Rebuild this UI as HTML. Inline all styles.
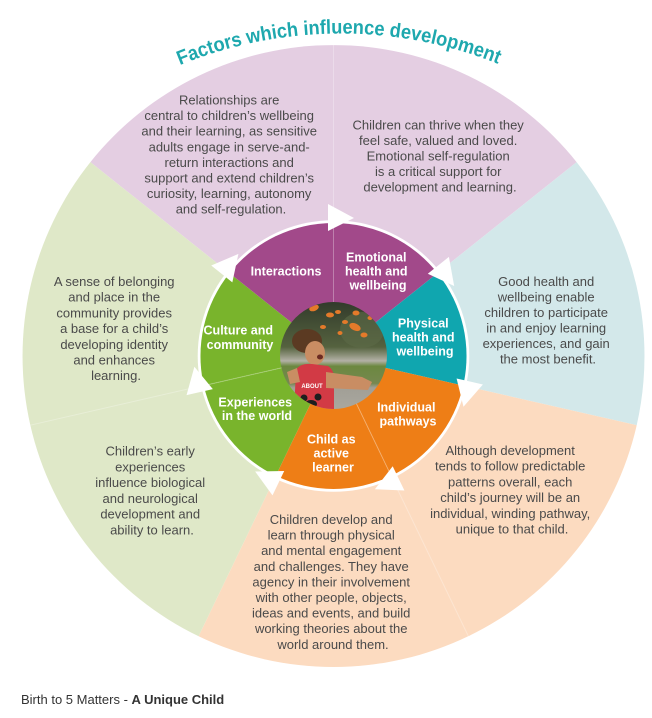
<!DOCTYPE html>
<html>
<head>
<meta charset="utf-8">
<style>
  html, body { margin:0; padding:0; background:#ffffff; }
  svg { display:block; }
  .body { font-family:"Liberation Sans", sans-serif; font-size:13px; fill:#4a4a4a; }
  .lbl { font-family:"Liberation Sans", sans-serif; font-size:12.5px; font-weight:bold; fill:#ffffff; }
</style>
</head>
<body>
<svg width="652" height="718" viewBox="0 0 652 718" xmlns="http://www.w3.org/2000/svg">
  <defs>
    <clipPath id="pc"><circle cx="333.5" cy="355.5" r="53.5"/></clipPath>
    <linearGradient id="bg" x1="0" y1="302" x2="0" y2="409" gradientUnits="userSpaceOnUse">
      <stop offset="0" stop-color="#323b2b"/>
      <stop offset="0.42" stop-color="#55623f"/>
      <stop offset="0.50" stop-color="#8e927c"/>
      <stop offset="0.55" stop-color="#b3b1a6"/>
      <stop offset="0.60" stop-color="#6c8840"/>
      <stop offset="0.76" stop-color="#75884f"/>
      <stop offset="0.80" stop-color="#a19f96"/>
      <stop offset="1" stop-color="#a9a79f"/>
    </linearGradient>
    <path id="titlePath" d="M 179.9 65.1 A 425 425 0 0 1 515 71"/>
  </defs>

  <!-- Outer pastel sectors -->
  <path d="M333.5 356 L90.4 162.1 A311 311 0 0 1 576.6 162.1 Z" fill="#e4cee2"/>
  <path d="M333.5 356 L576.6 162.1 A311 311 0 0 1 636.7 425.2 Z" fill="#d3e8ea"/>
  <path d="M333.5 356 L636.7 425.2 A311 311 0 0 1 198.6 636.2 Z" fill="#fcdbc0"/>
  <path d="M333.5 356 L198.6 636.2 A311 311 0 0 1 90.4 162.1 Z" fill="#dfe8c8"/>

  <!-- faint dividers in outer sectors -->
  <g stroke="#ffffff" stroke-opacity="0.28" stroke-width="1">
    <line x1="333.5" y1="220" x2="333.5" y2="45"/>
    <line x1="392" y1="478" x2="468.4" y2="636.2"/>
    <line x1="201" y1="386" x2="30.3" y2="425.2"/>
  </g>

  <!-- Title -->
  <text font-family="Liberation Sans, sans-serif" font-size="20" font-weight="bold" fill="#1ea8ae">
    <textPath href="#titlePath" textLength="326" lengthAdjust="spacingAndGlyphs">Factors which influence development</textPath>
  </text>

  <!-- Body texts -->
  <text class="body" text-anchor="middle">
    <tspan x="231" y="104.5">Relationships are</tspan>
    <tspan x="231" dy="15.6">central to children’s wellbeing</tspan>
    <tspan x="231" dy="15.6">and their learning, as sensitive</tspan>
    <tspan x="231" dy="15.6">adults engage in serve-and-</tspan>
    <tspan x="231" dy="15.6">return interactions and</tspan>
    <tspan x="231" dy="15.6">support and extend children’s</tspan>
    <tspan x="231" dy="15.6">curiosity, learning, autonomy</tspan>
    <tspan x="231" dy="15.6">and self-regulation.</tspan>
  </text>

  <text class="body" text-anchor="middle">
    <tspan x="440" y="129.5">Children can thrive when they</tspan>
    <tspan x="440" dy="15.5">feel safe, valued and loved.</tspan>
    <tspan x="440" dy="15.5">Emotional self-regulation</tspan>
    <tspan x="440" dy="15.5">is a critical support for</tspan>
    <tspan x="440" dy="15.5">development and learning.</tspan>
  </text>

  <text class="body" text-anchor="middle">
    <tspan x="548" y="286">Good health and</tspan>
    <tspan x="548" dy="15.5">wellbeing enable</tspan>
    <tspan x="548" dy="15.5">children to participate</tspan>
    <tspan x="548" dy="15.5">in and enjoy learning</tspan>
    <tspan x="548" dy="15.5">experiences, and gain</tspan>
    <tspan x="548" dy="15.5">the most benefit.</tspan>
  </text>

  <text class="body" text-anchor="middle">
    <tspan x="512" y="455">Although development</tspan>
    <tspan x="512" dy="15.7">tends to follow predictable</tspan>
    <tspan x="512" dy="15.7">patterns overall, each</tspan>
    <tspan x="512" dy="15.7">child’s journey will be an</tspan>
    <tspan x="512" dy="15.7">individual, winding pathway,</tspan>
    <tspan x="512" dy="15.7">unique to that child.</tspan>
  </text>

  <text class="body" text-anchor="middle">
    <tspan x="116" y="286">A sense of belonging</tspan>
    <tspan x="116" dy="15.7">and place in the</tspan>
    <tspan x="116" dy="15.7">community provides</tspan>
    <tspan x="116" dy="15.7">a base for a child’s</tspan>
    <tspan x="116" dy="15.7">developing identity</tspan>
    <tspan x="116" dy="15.7">and enhances</tspan>
    <tspan x="116" dy="15.7">learning.</tspan>
  </text>

  <text class="body" text-anchor="middle">
    <tspan x="152" y="455.5">Children’s early</tspan>
    <tspan x="152" dy="15.8">experiences</tspan>
    <tspan x="152" dy="15.8">influence biological</tspan>
    <tspan x="152" dy="15.8">and neurological</tspan>
    <tspan x="152" dy="15.8">development and</tspan>
    <tspan x="152" dy="15.8">ability to learn.</tspan>
  </text>

  <text class="body" text-anchor="middle">
    <tspan x="333" y="524">Children develop and</tspan>
    <tspan x="333" dy="15.6">learn through physical</tspan>
    <tspan x="333" dy="15.6">and mental engagement</tspan>
    <tspan x="333" dy="15.6">and challenges. They have</tspan>
    <tspan x="333" dy="15.6">agency in their involvement</tspan>
    <tspan x="333" dy="15.6">with other people, objects,</tspan>
    <tspan x="333" dy="15.6">ideas and events, and build</tspan>
    <tspan x="333" dy="15.6">working theories about the</tspan>
    <tspan x="333" dy="15.6">world around them.</tspan>
  </text>

  <!-- White ring -->
  <circle cx="333.5" cy="356" r="135.8" fill="#ffffff"/>

  <!-- Inner wheel segments -->
  <path d="M333.5 356 L333.5 223 A133 133 0 0 1 437.5 273.1 Z" fill="#a2498a"/>
  <path d="M333.5 356 L437.5 273.1 A133 133 0 0 1 463.2 385.6 Z" fill="#10a6af"/>
  <path d="M333.5 356 L463.2 385.6 A133 133 0 0 1 391.2 475.8 Z" fill="#ee7e16"/>
  <path d="M333.5 356 L391.2 475.8 A133 133 0 0 1 275.8 475.8 Z" fill="#ee7e16"/>
  <path d="M333.5 356 L275.8 475.8 A133 133 0 0 1 203.8 385.6 Z" fill="#79b42c"/>
  <path d="M333.5 356 L203.8 385.6 A133 133 0 0 1 229.5 273.1 Z" fill="#79b42c"/>
  <path d="M333.5 356 L229.5 273.1 A133 133 0 0 1 333.5 223 Z" fill="#a2498a"/>

  <g stroke="#ffffff" stroke-opacity="0.3" stroke-width="1">
    <line x1="333.5" y1="356" x2="333.5" y2="223"/>
    <line x1="333.5" y1="356" x2="391.2" y2="475.8"/>
    <line x1="333.5" y1="356" x2="203.8" y2="385.6"/>
  </g>

  <!-- Arrows -->
  <g fill="#ffffff">
    <polygon points="328,204 328,231 354,218" transform="rotate(0 333.5 356)"/>
    <polygon points="328,204 328,231 354,218" transform="rotate(51.4286 333.5 356)"/>
    <polygon points="328,204 328,231 354,218" transform="rotate(102.857 333.5 356)"/>
    <polygon points="328,204 328,231 354,218" transform="rotate(154.286 333.5 356)"/>
    <polygon points="328,204 328,231 354,218" transform="rotate(205.714 333.5 356)"/>
    <polygon points="328,204 328,231 354,218" transform="rotate(257.143 333.5 356)"/>
    <polygon points="328,204 328,231 354,218" transform="rotate(308.571 333.5 356)"/>
  </g>

  <!-- Wheel labels -->
  <text class="lbl" text-anchor="middle" x="286" y="275.5">Interactions</text>
  <text class="lbl" text-anchor="middle">
    <tspan x="378" y="261.5">Emotional</tspan>
    <tspan x="378" dy="14">health and</tspan>
    <tspan x="378" dy="14">wellbeing</tspan>
  </text>
  <text class="lbl" text-anchor="middle">
    <tspan x="425" y="327.5">Physical</tspan>
    <tspan x="425" dy="14">health and</tspan>
    <tspan x="425" dy="14">wellbeing</tspan>
  </text>
  <text class="lbl" text-anchor="middle">
    <tspan x="408" y="411.5">Individual</tspan>
    <tspan x="408" dy="14">pathways</tspan>
  </text>
  <text class="lbl" text-anchor="middle">
    <tspan x="333" y="443.5">Child as</tspan>
    <tspan x="333" dy="14">active</tspan>
    <tspan x="333" dy="14">learner</tspan>
  </text>
  <text class="lbl" text-anchor="middle">
    <tspan x="257" y="406.5">Experiences</tspan>
    <tspan x="257" dy="13.5">in the world</tspan>
  </text>
  <text class="lbl" text-anchor="middle">
    <tspan x="240" y="334.5">Culture and</tspan>
    <tspan x="240" dy="14.5">community</tspan>
  </text>

  <!-- Photo -->
  <g clip-path="url(#pc)">
    <rect x="278" y="300" width="112" height="112" fill="url(#bg)"/>
    <ellipse cx="362" cy="330" rx="22" ry="18" fill="#5e6a48" opacity="0.6"/>
    <g fill="#e47a2a">
      <ellipse cx="314" cy="308" rx="5" ry="3" transform="rotate(-20 314 308)"/>
      <ellipse cx="330" cy="315" rx="4" ry="2.5"/>
      <ellipse cx="338" cy="312" rx="3" ry="2"/>
      <ellipse cx="356" cy="313" rx="3.5" ry="2.5"/>
      <ellipse cx="355" cy="327" rx="6" ry="3.5" transform="rotate(25 355 327)"/>
      <ellipse cx="345" cy="322" rx="3" ry="2"/>
      <ellipse cx="364" cy="335" rx="3.5" ry="2.5"/>
      <ellipse cx="323" cy="327" rx="3" ry="2"/>
      <ellipse cx="340" cy="333" rx="2.5" ry="2"/>
      <ellipse cx="370" cy="318" rx="2.5" ry="2"/>
    </g>
    <ellipse cx="307" cy="341" rx="15" ry="12" fill="#5b3a22"/>
    <ellipse cx="315" cy="353" rx="10" ry="12" fill="#c98d63"/>
    <ellipse cx="320" cy="357" rx="3" ry="2.5" fill="#6b2a22"/>
    <path d="M296 370 Q300 363 312 364 L328 366 Q334 370 334 378 L334 412 L294 412 Z" fill="#d23a45"/>
    <polygon points="326,372 362,377 372,382 368,390 326,388" fill="#c98d63"/>
    <polygon points="287,372 297,368 300,382 290,384" fill="#c98d63"/>
    <g fill="#1e1e1e">
      <circle cx="304" cy="398" r="3.5"/>
      <circle cx="318" cy="397" r="3.5"/>
      <ellipse cx="311" cy="404" rx="6" ry="4"/>
    </g>
    <text x="312" y="388" text-anchor="middle" font-family="Liberation Sans, sans-serif" font-size="6" font-weight="bold" fill="#ffffff">ABOUT</text>
  </g>

  <!-- Footer -->
  <text x="21" y="704" font-family="Liberation Sans, sans-serif" font-size="13" fill="#333333">Birth to 5 Matters - <tspan font-weight="bold">A Unique Child</tspan></text>
</svg>
</body>
</html>
